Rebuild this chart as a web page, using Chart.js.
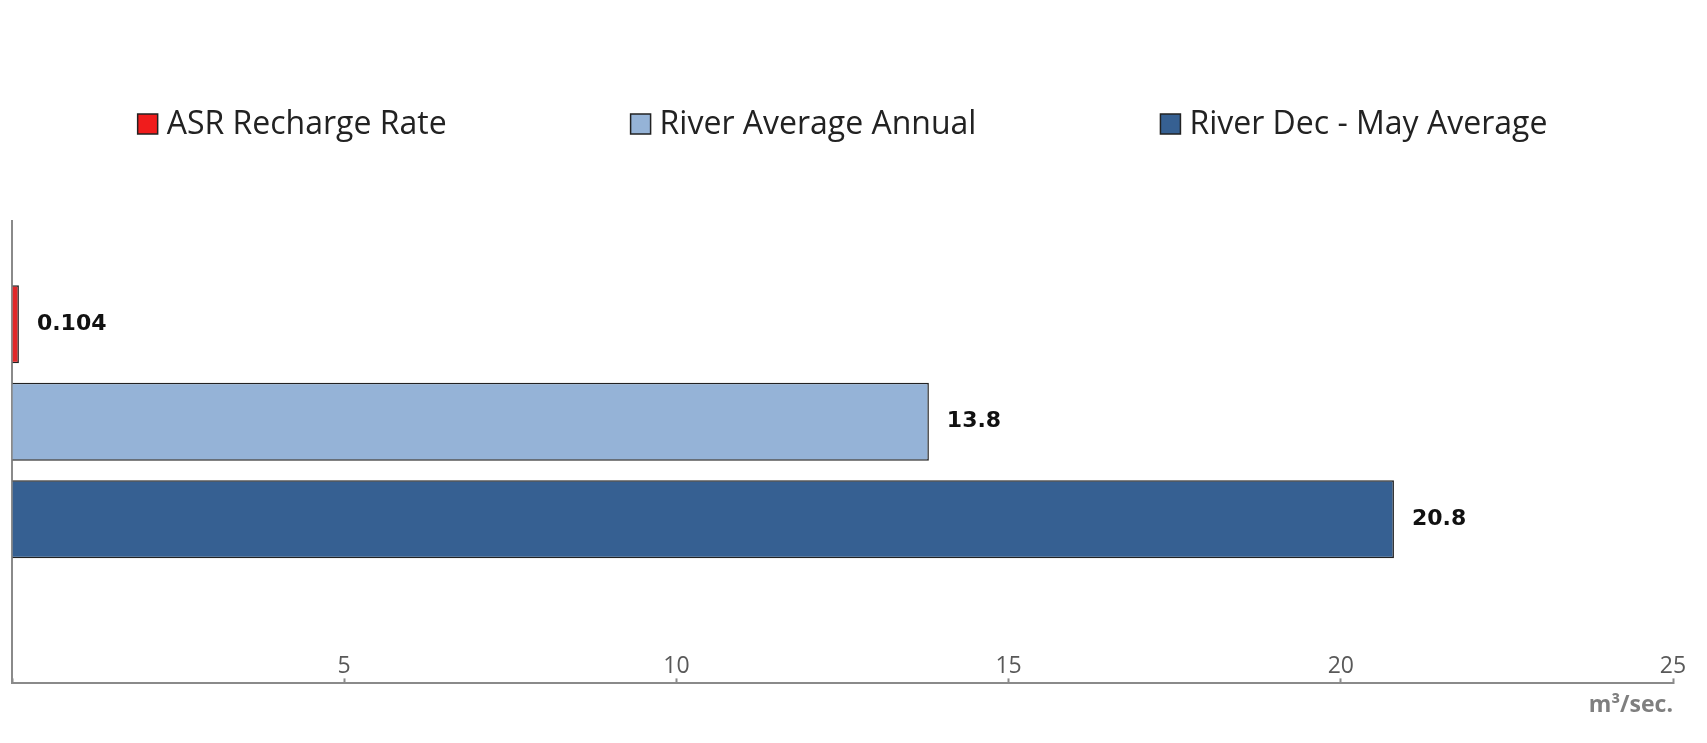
<!DOCTYPE html>
<html>
<head>
<meta charset="utf-8">
<title>ASR recharge vs river flow</title>
<script src="https://cdn.jsdelivr.net/npm/chart.js@4.4.1/dist/chart.umd.min.js"></script>
<style>
  body { margin: 0; background: #ffffff; }
  canvas { display: block; }
</style>
</head>
<body>
<canvas id="flowChart" width="1707" height="743"></canvas>
<script>
// chart data
const categories = ['Flow'];
const seriesNames = ['ASR Recharge Rate', 'River Average Annual', 'River Dec - May Average'];
const asrRecharge = [0.104];
const riverAnnual = [13.8];
const riverDecMay = [20.8];
const xTicks = [0, 5, 10, 15, 20, 25];
const unitLabel = 'm³/sec.';

Chart.defaults.font.family = '"Open Sans", sans-serif';

// value labels to the right of each bar
const valueLabels = {
  id: 'valueLabels',
  afterDatasetsDraw(chart) {
    const ctx = chart.ctx;
    ctx.save();
    ctx.font = 'bold 22px "DejaVu Sans"';
    ctx.fillStyle = '#111111';
    ctx.textBaseline = 'middle';
    ctx.textAlign = 'left';
    chart.data.datasets.forEach(function(ds, i) {
      chart.getDatasetMeta(i).data.forEach(function(bar, j) {
        ctx.fillText(String(ds.data[j]), bar.x + 18, bar.y);
      });
    });
    ctx.restore();
  }
};

// the value axis line starts a bit below the top of the plot area
const leftAxis = {
  id: 'leftAxis',
  beforeDatasetsDraw(chart) {
    const ctx = chart.ctx;
    const x = chart.scales.x.getPixelForValue(0);
    ctx.save();
    ctx.strokeStyle = '#8a8a8a';
    ctx.lineWidth = 2;
    ctx.beginPath();
    ctx.moveTo(x, chart.chartArea.top + 60);
    ctx.lineTo(x, chart.chartArea.bottom);
    ctx.stroke();
    ctx.restore();
  }
};

// one-row legend with wide gaps (the built-in legend wraps at this spacing)
const legendRow = {
  id: 'legendRow',
  afterDraw(chart) {
    const ctx = chart.ctx;
    const sets = chart.data.datasets;
    const box = 20, gap = 9, spacing = 184, y = 124;
    ctx.save();
    ctx.font = '32px "Open Sans"';
    ctx.textBaseline = 'middle';
    const widths = sets.map(function(ds) { return box + gap + ctx.measureText(ds.label).width; });
    const total = widths.reduce(function(a, b) { return a + b; }, 0) + spacing * (sets.length - 1);
    let x = (chart.chartArea.left + chart.chartArea.right - total) / 2;
    sets.forEach(function(ds, i) {
      ctx.fillStyle = ds.legendColor || ds.backgroundColor;
      ctx.fillRect(x, y - box / 2, box, box);
      ctx.lineWidth = 1.5;
      ctx.strokeStyle = '#222222';
      ctx.strokeRect(x, y - box / 2, box, box);
      ctx.fillStyle = '#222222';
      ctx.fillText(ds.label, x + box + gap, y + 1);
      x += widths[i] + spacing;
    });
    ctx.restore();
  }
};

var ctx = document.getElementById('flowChart').getContext('2d');
window.flowChart = new Chart(ctx, {
  type: 'bar',
  data: {
    labels: categories,
    datasets: [
      { label: seriesNames[0], data: asrRecharge, backgroundColor: '#e0282a', legendColor: '#f01c1c', borderColor: '#222222', borderWidth: 1.5 },
      { label: seriesNames[1], data: riverAnnual, backgroundColor: '#95b3d7', borderColor: '#222222', borderWidth: 1.5 },
      { label: seriesNames[2], data: riverDecMay, backgroundColor: '#366092', borderColor: '#222222', borderWidth: 1.5 }
    ]
  },
  options: {
    indexAxis: 'y',
    responsive: false,
    animation: false,
    categoryPercentage: 0.559,
    barPercentage: 0.8,
    layout: { padding: { top: 160, left: 12, right: 34, bottom: 0 } },
    plugins: {
      legend: { display: false },
      tooltip: { enabled: false }
    },
    scales: {
      x: {
        type: 'linear',
        min: xTicks[0],
        max: xTicks[xTicks.length - 1],
        afterBuildTicks: function(scale) {
          scale.ticks = xTicks.map(function(v) { return { value: v }; });
        },
        ticks: {
          mirror: true,
          padding: 3,
          color: '#595959',
          font: { size: 23 },
          maxRotation: 0,
          callback: function(v) { return v === 0 ? '' : v; }
        },
        grid: {
          drawOnChartArea: false,
          drawTicks: true,
          tickLength: -5,
          tickWidth: 2,
          color: '#8a8a8a'
        },
        border: { display: true, color: '#8a8a8a', width: 2 },
        title: {
          display: true,
          text: unitLabel,
          align: 'end',
          color: '#7f7f7f',
          font: { size: 23, weight: 'bold' },
          padding: { top: 7, bottom: 24 }
        }
      },
      y: {
        type: 'category',
        offset: true,
        ticks: { display: false },
        grid: { display: false, drawTicks: false },
        border: { display: false }
      }
    }
  },
  plugins: [leftAxis, valueLabels, legendRow]
});
</script>
</body>
</html>
